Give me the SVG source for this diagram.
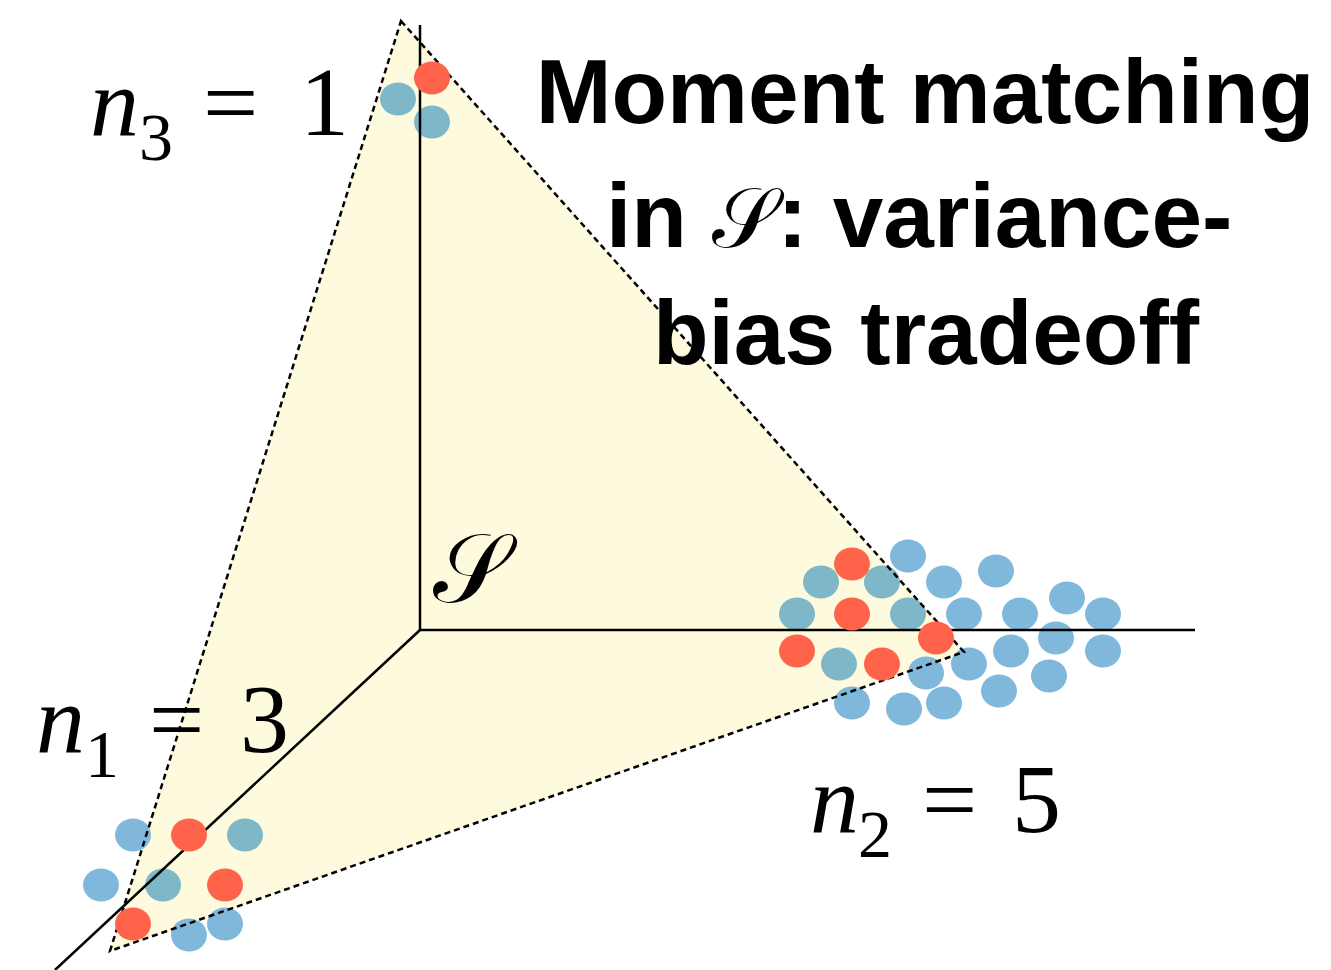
<svg xmlns="http://www.w3.org/2000/svg" width="1331" height="970" viewBox="0 0 1331 970">
<style>
.ax{stroke:#000;stroke-width:2.5;fill:none}
.dash{stroke:#000;stroke-width:2.5;fill:none;stroke-dasharray:6 4}
.b{fill:#80b8dc}
.t{fill:#7eb7c8}
.r{fill:#ff644b}
.title{font-family:"Liberation Sans",Arial,sans-serif;font-weight:bold;font-size:91px;fill:#000}
.m{font-family:"Liberation Serif","Times New Roman",serif;font-size:98px;fill:#000}
.mi{font-style:italic}
.sub{font-size:68px}
.scr{font-family:"DejaVu Serif","DejaVu Sans","Liberation Serif",serif;font-style:normal;font-weight:normal}
</style>
<rect width="1331" height="970" fill="#fff"/>
<g id="simplex">
<polygon points="401,21 964,652 110,951" fill="#fefadd"/>
</g>
<g id="blue-dots">
<ellipse class="t" cx="398" cy="99" rx="18" ry="16.5"/>
<ellipse class="t" cx="432" cy="122" rx="18" ry="16.5"/>
<ellipse class="t" cx="821" cy="582" rx="18" ry="16.5"/>
<ellipse class="t" cx="882" cy="582" rx="18" ry="16.5"/>
<ellipse class="b" cx="908" cy="556" rx="18" ry="16.5"/>
<ellipse class="b" cx="944" cy="582" rx="18" ry="16.5"/>
<ellipse class="b" cx="996" cy="571" rx="18" ry="16.5"/>
<ellipse class="t" cx="797" cy="614" rx="18" ry="16.5"/>
<ellipse class="t" cx="908" cy="614" rx="18" ry="16.5"/>
<ellipse class="b" cx="964" cy="614" rx="18" ry="16.5"/>
<ellipse class="b" cx="1020" cy="614" rx="18" ry="16.5"/>
<ellipse class="b" cx="1067" cy="598" rx="18" ry="16.5"/>
<ellipse class="b" cx="1103" cy="614" rx="18" ry="16.5"/>
<ellipse class="t" cx="839" cy="664" rx="18" ry="16.5"/>
<ellipse class="b" cx="926" cy="673" rx="18" ry="16.5"/>
<ellipse class="b" cx="969" cy="664" rx="18" ry="16.5"/>
<ellipse class="b" cx="1011" cy="651" rx="18" ry="16.5"/>
<ellipse class="b" cx="1056" cy="638" rx="18" ry="16.5"/>
<ellipse class="b" cx="1103" cy="651" rx="18" ry="16.5"/>
<ellipse class="b" cx="1049" cy="676" rx="18" ry="16.5"/>
<ellipse class="b" cx="999" cy="691" rx="18" ry="16.5"/>
<ellipse class="b" cx="852" cy="703" rx="18" ry="16.5"/>
<ellipse class="b" cx="904" cy="709" rx="18" ry="16.5"/>
<ellipse class="b" cx="944" cy="703" rx="18" ry="16.5"/>
<ellipse class="b" cx="133" cy="835" rx="18" ry="16.5"/>
<ellipse class="t" cx="245" cy="835" rx="18" ry="16.5"/>
<ellipse class="b" cx="101" cy="885" rx="18" ry="16.5"/>
<ellipse class="t" cx="163" cy="885" rx="18" ry="16.5"/>
<ellipse class="b" cx="189" cy="935" rx="18" ry="16.5"/>
<ellipse class="b" cx="225" cy="924" rx="18" ry="16.5"/>
</g>
<g id="connectors">
<polygon class="dash" points="401,21 964,652 110,951"/>
<line class="ax" x1="420" y1="25" x2="420" y2="630"/>
<line class="ax" x1="420" y1="630" x2="1195" y2="630"/>
<line class="ax" x1="420" y1="630" x2="55" y2="970"/>
</g>
<g id="red-dots">
<ellipse class="r" cx="432" cy="78" rx="18" ry="16.5"/>
<ellipse class="r" cx="852" cy="564" rx="18" ry="16.5"/>
<ellipse class="r" cx="852" cy="614" rx="18" ry="16.5"/>
<ellipse class="r" cx="936" cy="638" rx="18" ry="16.5"/>
<ellipse class="r" cx="797" cy="651" rx="18" ry="16.5"/>
<ellipse class="r" cx="882" cy="664" rx="18" ry="16.5"/>
<ellipse class="r" cx="189" cy="835" rx="18" ry="16.5"/>
<ellipse class="r" cx="225" cy="885" rx="18" ry="16.5"/>
<ellipse class="r" cx="133" cy="924" rx="18" ry="16.5"/>
</g>
<g id="label-S">
<text class="m scr" x="433" y="602" font-size="80">𝒮</text>
</g>
<g id="label-n3">
<text class="m"><tspan class="mi" x="90" y="135">n</tspan><tspan class="sub" x="139" y="160">3</tspan><tspan x="203" y="135">=</tspan><tspan x="300" y="135">1</tspan></text>
</g>
<g id="label-n1">
<text class="m"><tspan class="mi" x="36" y="752">n</tspan><tspan class="sub" x="85" y="777">1</tspan><tspan x="149" y="752">=</tspan><tspan x="240" y="752">3</tspan></text>
</g>
<g id="label-n2">
<text class="m"><tspan class="mi" x="810" y="832">n</tspan><tspan class="sub" x="858" y="857">2</tspan><tspan x="922" y="832">=</tspan><tspan x="1012" y="832">5</tspan></text>
</g>
<g id="title">
<text class="title" x="925" y="123" text-anchor="middle">Moment matching</text>
<text class="title" x="606" y="247">in <tspan class="scr" font-size="84">𝒮</tspan>: variance-</text>
<text class="title" x="926" y="364" text-anchor="middle">bias tradeoff</text>
</g>
</svg>
